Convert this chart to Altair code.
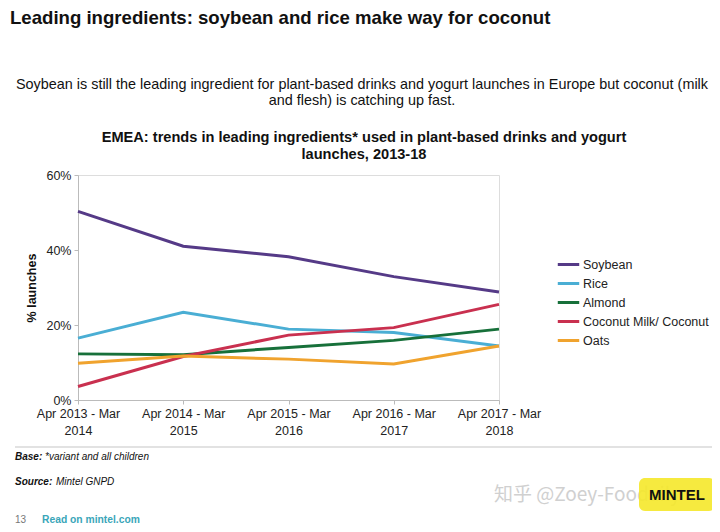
import altair as alt
import pandas as pd

periods = ["Apr 2013 - Mar 2014", "Apr 2014 - Mar 2015", "Apr 2015 - Mar 2016",
           "Apr 2016 - Mar 2017", "Apr 2017 - Mar 2018"]
series_names = ["Soybean", "Rice", "Almond", "Coconut Milk/ Coconut", "Oats"]
soybean = [50.3, 41.0, 38.2, 32.9, 28.8]
rice = [16.5, 23.4, 18.9, 18.0, 14.4]
almond = [12.3, 12.1, 14.0, 15.9, 18.9]
coconut = [3.6, 11.6, 17.3, 19.3, 25.5]
oats = [9.8, 11.7, 10.9, 9.6, 14.4]
colors = ["#553a87", "#4aaed4", "#17703a", "#c9304f", "#f0a32e"]

rows = []
for name, vals in zip(series_names, [soybean, rice, almond, coconut, oats]):
    for p, v in zip(periods, vals):
        rows.append({"period": p, "series": name, "value": v / 100})
df = pd.DataFrame(rows)

FONT = "Liberation Sans"

lines = alt.Chart(df).mark_line(strokeWidth=3).encode(
    x=alt.X("period:N", sort=periods,
            scale=alt.Scale(type="point", padding=0),
            axis=alt.Axis(title=None, labelAngle=0, labelFont=FONT, labelFontSize=12.5,
                          labelColor="#222", labelPadding=3, tickSize=4, tickColor="#bbb",
                          domainColor="#bbb", grid=False, labelLineHeight=17,
                          labelBaseline="top",
                          labelExpr="[substring(datum.label,0,14), substring(datum.label,15)]")),
    y=alt.Y("value:Q", scale=alt.Scale(domain=[0, 0.6]),
            axis=alt.Axis(title=None, format=".0%", values=[0, 0.2, 0.4, 0.6], grid=False,
                          labelFont=FONT, labelFontSize=12.5, labelColor="#222",
                          tickSize=4, tickColor="#bbb", domainColor="#bbb", labelPadding=3)),
    color=alt.Color("series:N", sort=series_names,
                    scale=alt.Scale(domain=series_names, range=colors),
                    legend=alt.Legend(title=None, orient="none", legendX=478, legendY=77,
                                      symbolType="stroke", symbolStrokeWidth=3, symbolSize=460,
                                      labelFont=FONT, labelFontSize=12.5, labelColor="#222",
                                      labelOffset=2, rowPadding=0)),
)


def txt(text, x, y, size=12, weight="normal", style="normal", align="left",
        color="#111", angle=0, font=FONT):
    return alt.Chart(pd.DataFrame({"t": [text]})).mark_text(
        font=font, fontSize=size, fontWeight=weight, fontStyle=style, align=align,
        baseline="middle", color=color, angle=angle
    ).encode(text="t:N", x=alt.value(x), y=alt.value(y))


layers = [
    lines,
    txt("Leading ingredients: soybean and rice make way for coconut", -68, -157, 18.6, "bold"),
    txt("Soybean is still the leading ingredient for plant-based drinks and yogurt launches in Europe but coconut (milk",
        284, -90, 14.4, align="center"),
    txt("and flesh) is catching up fast.", 284, -74, 14.4, align="center"),
    txt("EMEA: trends in leading ingredients* used in plant-based drinks and yogurt",
        286, -37, 14.6, "bold", align="center"),
    txt("launches, 2013-18", 286, -20, 14.6, "bold", align="center"),
    txt("% launches", -46, 113, 12.5, "bold", angle=270, align="center"),
    alt.Chart(pd.DataFrame({"a": [0]})).mark_rule(color="#d9d9d9", strokeWidth=1.5).encode(
        x=alt.value(-63), x2=alt.value(637), y=alt.value(272)),
    txt("Base:", -63, 282, 10, "bold", "italic"),
    txt("*variant and all children", -33, 282, 10, style="italic"),
    txt("Source:", -63, 307, 10, "bold", "italic"),
    txt("Mintel GNPD", -22, 307, 10, style="italic"),
    txt("13", -63, 345, 10, color="#777"),
    txt("Read on mintel.com", -36, 345, 10.3, "bold", color="#3aa6b9"),
    txt("知乎 @Zoey-Foodaily", 416, 320, 19, color="#d0d0d0", font="Noto Sans CJK SC"),
    alt.Chart(pd.DataFrame({"a": [0]})).mark_rect(color="#f5e82a", cornerRadius=6, opacity=0.9).encode(
        x=alt.value(561), x2=alt.value(637), y=alt.value(303), y2=alt.value(336)),
    txt("MINTEL", 599, 320, 15, "bold", align="center", color="#111"),
]

chart = alt.layer(*layers).properties(
    width=421, height=225,
    autosize=alt.AutoSizeParams(type="none"),
    padding={"left": 70, "top": 167, "right": 213, "bottom": 124},
).configure_view(strokeWidth=0, stroke="transparent").configure(background="white")

chart.save("out.html", embed_options={"renderer": "svg", "actions": False})
